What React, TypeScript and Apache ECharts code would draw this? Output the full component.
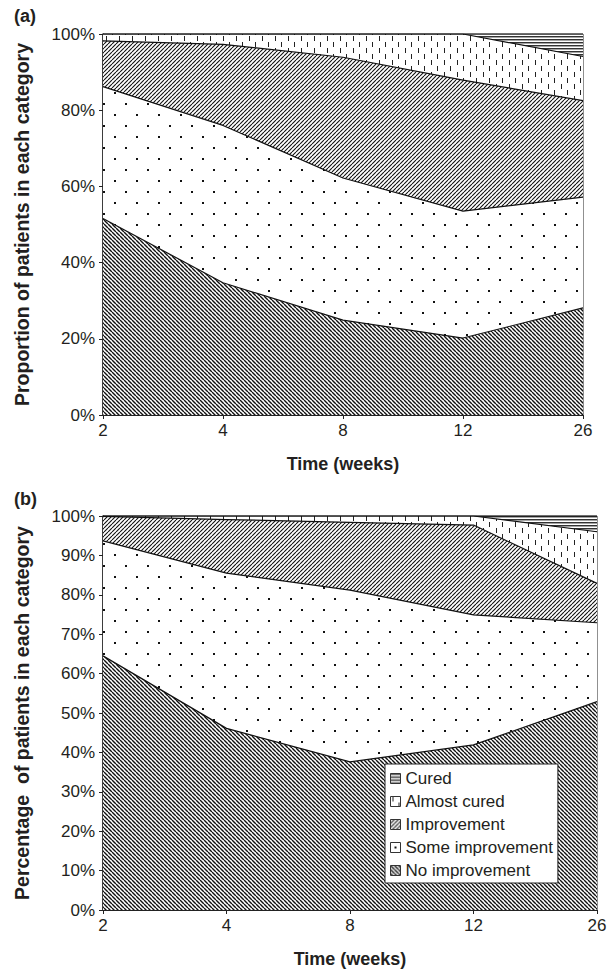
import React, { useEffect, useRef } from 'react';
import * as echarts from 'echarts';

const weeks = ['2', '4', '8', '12', '26'];
const seriesNames = ['No improvement', 'Some improvement', 'Improvement', 'Almost cured', 'Cured'];
const legendOrder = ['Cured', 'Almost cured', 'Improvement', 'Some improvement', 'No improvement'];

// Panel (a): proportion (%) of patients per category, stacked bottom to top
const aNo = [51.6, 34.7, 24.9, 20.2, 28.1];
const aSome = [34.6, 41.3, 37.3, 33.3, 29.1];
const aImp = [12.0, 21.3, 31.7, 34.4, 25.3];
const aAlmost = [1.8, 2.7, 6.1, 12.1, 11.6];
const aCured = [0, 0, 0, 0, 5.9];

// Panel (b): percentage of patients per category
const bNo = [64.5, 46.1, 37.6, 41.9, 52.9];
const bSome = [29.2, 39.4, 43.6, 33.0, 20.0];
const bImp = [6.2, 13.6, 17.2, 22.8, 10.0];
const bAlmost = [0.1, 0.9, 1.6, 2.3, 13.1];
const bCured = [0, 0, 0, 0, 4.0];

const FONT = 'Liberation Sans, Arial, sans-serif';
const TXT = '#231f20';

function makePattern(w: number, h: number, draw: (ctx: CanvasRenderingContext2D) => void) {
  const c = document.createElement('canvas');
  c.width = w;
  c.height = h;
  const ctx = c.getContext('2d')!;
  ctx.fillStyle = '#fff';
  ctx.fillRect(0, 0, w, h);
  draw(ctx);
  return { image: c.toDataURL(), repeat: 'repeat', imageWidth: w, imageHeight: h } as any;
}

function buildPatterns() {
  const s = 4;
  const noImp = makePattern(s, s, (ctx) => {
    ctx.strokeStyle = '#111';
    ctx.lineWidth = 1.4;
    ctx.beginPath();
    for (const k of [-s, 0, s]) {
      ctx.moveTo(k, 0);
      ctx.lineTo(k + s, s);
    }
    ctx.stroke();
  });
  const imp = makePattern(s, s, (ctx) => {
    ctx.strokeStyle = '#111';
    ctx.lineWidth = 1.1;
    ctx.beginPath();
    for (const k of [-s, 0, s]) {
      ctx.moveTo(k, s);
      ctx.lineTo(k + s, 0);
    }
    ctx.stroke();
  });
  const some = makePattern(22, 22, (ctx) => {
    ctx.fillStyle = '#111';
    ctx.fillRect(4, 4, 2, 2);
    ctx.fillRect(15, 15, 2, 2);
  });
  const almost = makePattern(13, 12, (ctx) => {
    ctx.fillStyle = '#222';
    ctx.fillRect(2, 0, 1, 5);
    ctx.fillRect(8, 6, 1, 5);
  });
  const cured = makePattern(4, 3, (ctx) => {
    ctx.fillStyle = '#333';
    ctx.fillRect(0, 0, 4, 1.3);
    ctx.fillStyle = '#999';
    ctx.fillRect(0, 1.3, 4, 0.7);
  });
  return { noImp, imp, some, almost, cured };
}

export default function App() {
  const ref = useRef<HTMLDivElement>(null);

  useEffect(() => {
    document.body.style.margin = '0';
    if (!ref.current) return;
    const chart = echarts.init(ref.current, null, { renderer: 'svg' });
    const p = buildPatterns();
    const patByName: Record<string, any> = {
      'No improvement': p.noImp,
      'Some improvement': p.some,
      'Improvement': p.imp,
      'Almost cured': p.almost,
      'Cured': p.cured,
    };
    const dataA = [aNo, aSome, aImp, aAlmost, aCured];
    const dataB = [bNo, bSome, bImp, bAlmost, bCured];

    const mkSeries = (data: number[][], idx: number, stack: string) =>
      seriesNames.map((name, i) => ({
        name,
        type: 'line',
        stack,
        xAxisIndex: idx,
        yAxisIndex: idx,
        data: data[i],
        symbol: 'none',
        smooth: false,
        lineStyle: { color: '#111', width: 1.2 },
        itemStyle: { color: '#111' },
        areaStyle: { color: patByName[name], opacity: 1 },
        z: 2,
      }));

    const xAxisCommon = {
      type: 'category',
      data: weeks,
      boundaryGap: false,
      axisLine: { lineStyle: { color: '#222', width: 1.2 } },
      axisTick: { show: true, length: 4, inside: false, lineStyle: { color: '#222' } },
      axisLabel: { color: TXT, fontSize: 17, fontFamily: FONT, margin: 7 },
      name: 'Time (weeks)',
      nameLocation: 'middle',
      nameGap: 40,
      nameTextStyle: { color: TXT, fontSize: 18, fontWeight: 'bold', fontFamily: FONT },
      splitLine: { show: false },
    };
    const yAxisCommon = {
      type: 'value',
      min: 0,
      max: 100,
      axisLine: { show: true, lineStyle: { color: '#222', width: 1.5 } },
      axisTick: { show: true, length: 4, inside: false, lineStyle: { color: '#222' } },
      axisLabel: { color: TXT, fontSize: 17, fontFamily: FONT, margin: 8, formatter: '{value}%' },
      nameLocation: 'middle',
      nameRotate: 90,
      nameGap: 71,
      nameTextStyle: { color: TXT, fontSize: 19.5, fontWeight: 'bold', fontFamily: FONT },
      splitLine: { show: false },
    };

    chart.setOption({
      animation: false,
      backgroundColor: '#fff',
      textStyle: { fontFamily: FONT },
      title: [
        { text: '(a)', left: 9, top: 2, textStyle: { fontSize: 18, fontWeight: 'bold', color: TXT, fontFamily: FONT } },
        { text: '(b)', left: 9, top: 485, textStyle: { fontSize: 18, fontWeight: 'bold', color: TXT, fontFamily: FONT } },
      ],
      grid: [
        { left: 103, top: 34, right: 31, height: 381, show: true, borderColor: '#222', borderWidth: 1, backgroundColor: 'transparent' },
        { left: 103, top: 516, right: 17, height: 394, show: true, borderColor: '#222', borderWidth: 1, backgroundColor: 'transparent' },
      ],
      xAxis: [
        { ...xAxisCommon, gridIndex: 0 },
        { ...xAxisCommon, gridIndex: 1 },
      ],
      yAxis: [
        { ...yAxisCommon, gridIndex: 0, interval: 20, name: 'Proportion of patients in each category' },
        { ...yAxisCommon, gridIndex: 1, interval: 10, name: 'Percentage  of patients in each category' },
      ],
      legend: {
        orient: 'vertical',
        left: 385,
        top: 764,
        padding: [6, 5, 4, 5],
        itemGap: 6,
        itemWidth: 10,
        itemHeight: 10,
        icon: 'rect',
        backgroundColor: '#fff',
        borderColor: '#222',
        borderWidth: 1,
        selectedMode: false,
        textStyle: { color: TXT, fontSize: 17, lineHeight: 17, fontFamily: FONT },
        data: legendOrder.map((name) => ({
          name,
          itemStyle: { color: patByName[name], borderColor: '#333', borderWidth: 1 },
        })),
      },
      series: [...mkSeries(dataA, 0, 'a'), ...mkSeries(dataB, 1, 'b')],
    });

    return () => {
      chart.dispose();
    };
  }, []);

  return <div ref={ref} style={{ width: 614, height: 972 }} />;
}
